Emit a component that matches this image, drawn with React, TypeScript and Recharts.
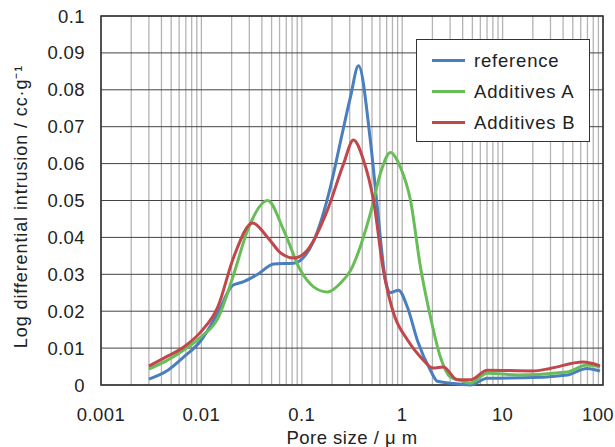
import React from "react";
import {
  CartesianGrid,
  Line,
  LineChart,
  ReferenceArea,
  XAxis,
  YAxis,
} from "recharts";

// pore size (um) and log differential intrusion (cc/g)
const referenceData = [
  { x: 0.003, y: 0.0016 },
  { x: 0.00464, y: 0.004 },
  { x: 0.00668, y: 0.0076 },
  { x: 0.00986, y: 0.012 },
  { x: 0.01455, y: 0.0195 },
  { x: 0.0205, y: 0.027 },
  { x: 0.0264, y: 0.028 },
  { x: 0.0364, y: 0.03 },
  { x: 0.0525, y: 0.0328 },
  { x: 0.0828, y: 0.033 },
  { x: 0.131, y: 0.039 },
  { x: 0.193, y: 0.0537 },
  { x: 0.243, y: 0.066 },
  { x: 0.305, y: 0.078 },
  { x: 0.367, y: 0.0865 },
  { x: 0.483, y: 0.066 },
  { x: 0.566, y: 0.048 },
  { x: 0.681, y: 0.0285 },
  { x: 0.764, y: 0.025 },
  { x: 0.917, y: 0.0257 },
  { x: 1.13, y: 0.021 },
  { x: 1.42, y: 0.012 },
  { x: 1.91, y: 0.004 },
  { x: 2.24, y: 0.001 },
  { x: 3.01, y: 0.0005 },
  { x: 4.76, y: 0.0 },
  { x: 7.03, y: 0.0018 },
  { x: 20.1, y: 0.002 },
  { x: 43.8, y: 0.0027 },
  { x: 69.3, y: 0.0045 },
  { x: 93.3, y: 0.0038 },
];

const additivesAData = [
  { x: 0.003, y: 0.0043 },
  { x: 0.00464, y: 0.0068 },
  { x: 0.00668, y: 0.0095 },
  { x: 0.00986, y: 0.013 },
  { x: 0.01455, y: 0.018 },
  { x: 0.021, y: 0.03 },
  { x: 0.0289, y: 0.042 },
  { x: 0.0457, y: 0.05 },
  { x: 0.0659, y: 0.042 },
  { x: 0.0973, y: 0.031 },
  { x: 0.131, y: 0.0266 },
  { x: 0.18, y: 0.0252 },
  { x: 0.243, y: 0.0276 },
  { x: 0.305, y: 0.031 },
  { x: 0.483, y: 0.0466 },
  { x: 0.607, y: 0.0574 },
  { x: 0.764, y: 0.063 },
  { x: 0.96, y: 0.059 },
  { x: 1.21, y: 0.05 },
  { x: 1.52, y: 0.032 },
  { x: 1.91, y: 0.0185 },
  { x: 2.4, y: 0.0076 },
  { x: 3.01, y: 0.0022 },
  { x: 3.79, y: 0.0013 },
  { x: 4.76, y: 0.0005 },
  { x: 7.03, y: 0.0032 },
  { x: 14.0, y: 0.0027 },
  { x: 43.8, y: 0.0035 },
  { x: 69.3, y: 0.0054 },
  { x: 93.3, y: 0.0049 },
];

const additivesBData = [
  { x: 0.003, y: 0.0051 },
  { x: 0.00423, y: 0.0073 },
  { x: 0.00668, y: 0.0103 },
  { x: 0.00986, y: 0.0144 },
  { x: 0.01455, y: 0.0211 },
  { x: 0.021, y: 0.0347 },
  { x: 0.0324, y: 0.0439 },
  { x: 0.0457, y: 0.04 },
  { x: 0.0615, y: 0.0358 },
  { x: 0.0828, y: 0.0344 },
  { x: 0.114, y: 0.0366 },
  { x: 0.18, y: 0.0474 },
  { x: 0.261, y: 0.06 },
  { x: 0.327, y: 0.0664 },
  { x: 0.411, y: 0.061 },
  { x: 0.518, y: 0.05 },
  { x: 0.65, y: 0.031 },
  { x: 0.819, y: 0.0195 },
  { x: 1.13, y: 0.0122 },
  { x: 1.52, y: 0.0076 },
  { x: 2.04, y: 0.0046 },
  { x: 2.57, y: 0.0049 },
  { x: 3.54, y: 0.0014 },
  { x: 4.76, y: 0.0014 },
  { x: 7.03, y: 0.004 },
  { x: 20.1, y: 0.0038 },
  { x: 29.7, y: 0.0045 },
  { x: 63.2, y: 0.0062 },
  { x: 93.3, y: 0.0052 },
];

const decades = [0.001, 0.01, 0.1, 1, 10, 100];
const yTicks = [0, 0.01, 0.02, 0.03, 0.04, 0.05, 0.06, 0.07, 0.08, 0.09, 0.1];

const series = [
  { name: "reference", data: referenceData, color: "#4a7fbe" },
  { name: "Additives A", data: additivesAData, color: "#68bd58" },
  { name: "Additives B", data: additivesBData, color: "#c0474b" },
];

// grid lines at every 1..9 x decade
const xTicks: number[] = [];
decades.slice(0, -1).forEach((d) => {
  for (let k = 1; k < 10; k++) xTicks.push(+(d * k).toPrecision(3));
});
xTicks.push(100);

const font = "'Liberation Sans', Arial, sans-serif";
const textColor = "#222";

function XTick(props: any) {
  const { x, y, payload } = props;
  const v = payload.value;
  if (!decades.includes(v)) return null;
  return (
    <text
      x={v === 100 ? x - 5 : x}
      y={y + 28}
      textAnchor="middle"
      fill={textColor}
      fontSize={18.5}
      letterSpacing={0.4}
      fontFamily={font}
    >
      {String(v)}
    </text>
  );
}

function YTick(props: any) {
  const { x, y, payload } = props;
  return (
    <text
      x={x}
      y={y + 6.5}
      textAnchor="end"
      fill={textColor}
      fontSize={18.5}
      letterSpacing={0.4}
      fontFamily={font}
    >
      {String(payload.value)}
    </text>
  );
}

function XLabel(props: any) {
  const { viewBox } = props;
  return (
    <text
      x={viewBox.x + viewBox.width / 2}
      y={444}
      textAnchor="middle"
      fill={textColor}
      fontSize={18.5}
      letterSpacing={0.5}
      fontFamily={font}
    >
      Pore size / μ m
    </text>
  );
}

function YLabel(props: any) {
  const { viewBox } = props;
  const cx = 27;
  const cy = viewBox.y + viewBox.height / 2 + 6;
  return (
    <text
      x={cx}
      y={cy}
      transform={`rotate(-90, ${cx}, ${cy})`}
      textAnchor="middle"
      fill={textColor}
      fontSize={18}
      letterSpacing={0.9}
      fontFamily={font}
    >
      Log differential intrusion / cc·g⁻¹
    </text>
  );
}

function LegendBox() {
  return (
    <div
      style={{
        position: "absolute",
        left: 416,
        top: 39,
        boxSizing: "border-box",
        width: 174,
        height: 103,
        border: "1px solid #333",
        background: "#fff",
        paddingTop: 5,
        fontFamily: font,
        fontSize: 18.5,
        letterSpacing: 0.8,
        color: textColor,
      }}
    >
      {series.map((s) => (
        <div
          key={s.name}
          style={{ display: "flex", alignItems: "center", height: 31 }}
        >
          <span
            style={{
              display: "inline-block",
              width: 33,
              height: 3,
              background: s.color,
              marginLeft: 15,
              marginRight: 9,
            }}
          />
          {s.name}
        </div>
      ))}
    </div>
  );
}

export default function App() {
  return (
    <div style={{ position: "absolute", left: 0, top: 0, background: "#fff" }}>
      <LineChart
        width={615}
        height={447}
        margin={{ top: 16, right: 12, bottom: 0, left: 0 }}
      >
        <CartesianGrid stroke="#b4b4b4" strokeWidth={1.3} horizontal={false} />
        <CartesianGrid stroke="#444" vertical={false} />
        <XAxis
          type="number"
          dataKey="x"
          scale="log"
          domain={[0.001, 100]}
          ticks={xTicks}
          interval={0}
          allowDataOverflow
          height={62}
          tick={<XTick />}
          tickLine={false}
          axisLine={false}
          label={<XLabel />}
        />
        <YAxis
          type="number"
          domain={[0, 0.1]}
          ticks={yTicks}
          interval={0}
          width={101}
          tickLine={false}
          tickSize={0}
          tickMargin={16}
          axisLine={false}
          tick={<YTick />}
          label={<YLabel />}
        />
        <ReferenceArea
          x1={0.001}
          x2={100}
          y1={0}
          y2={0.1}
          fill="none"
          stroke="#333"
          strokeWidth={1.6}
          ifOverflow="visible"
        />
        {series.map((s) => (
          <Line
            key={s.name}
            name={s.name}
            data={s.data}
            dataKey="y"
            type="monotone"
            stroke={s.color}
            strokeWidth={3}
            dot={false}
            isAnimationActive={false}
          />
        ))}
      </LineChart>
      <LegendBox />
    </div>
  );
}
